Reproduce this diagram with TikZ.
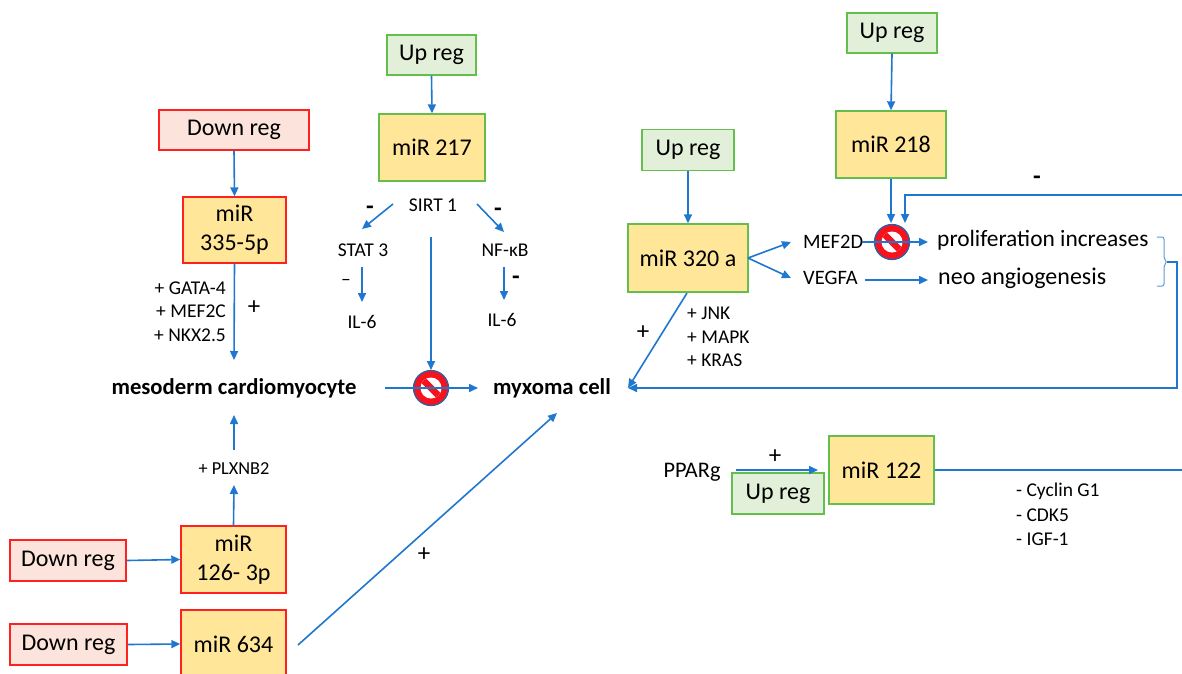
\documentclass[tikz,border=0pt]{standalone}
\usepackage{fontspec}
\setmainfont{Carlito}
\usetikzlibrary{arrows.meta}
\definecolor{pinkfill}{HTML}{FCE4DC}
\definecolor{redline}{HTML}{FF2020}
\definecolor{greenfill}{HTML}{E2F0D9}
\definecolor{greenline}{HTML}{63BE4B}
\definecolor{yellowfill}{HTML}{FFE699}
\definecolor{arrowblue}{HTML}{1F77CF}
\definecolor{braceblue}{HTML}{5B9BD5}
\definecolor{signred}{HTML}{F5141E}
\definecolor{signblue}{HTML}{2E5FA8}
\begin{document}
\begin{tikzpicture}[x=1pt,y=-1pt,
  box/.style={draw, line width=1.4pt, inner sep=0pt, align=center, font=\fontsize{24}{29}\selectfont},
  downbox/.style={box, fill=pinkfill, draw=redline},
  upbox/.style={box, fill=greenfill, draw=greenline},
  mirR/.style={box, fill=yellowfill, draw=redline},
  mirG/.style={box, fill=yellowfill, draw=greenline},
  arr/.style={draw=arrowblue, line width=1.6pt, -{Triangle[length=9pt,width=8pt]}},
  lnk/.style={draw=arrowblue, line width=1.6pt},
  lbl/.style={inner sep=0pt, font=\fontsize{19.5}{22}\selectfont},
  midlbl/.style={inner sep=0pt, font=\fontsize{20.5}{22}\selectfont},
  biglbl/.style={inner sep=0pt, font=\fontsize{24}{27}\selectfont},
  boldlbl/.style={inner sep=0pt, font=\fontsize{22.7}{25}\selectfont\bfseries},
  signlbl/.style={inner sep=0pt, font=\fontsize{25}{27}\selectfont},
  nosign/.pic={
    \filldraw[fill=signred, draw=signblue, line width=1.3pt] (0,0) circle (17.5);
    \fill[white] (0,0) circle (10.5);
    \begin{scope}
      \clip (0,0) circle (10.5);
      \draw[signred, line width=6.5pt] (-13,-13) -- (13,13);
    \end{scope}
  }
]
\useasboundingbox (0,0) rectangle (1182,673);
\fill[white] (0,0) rectangle (1182,673);

% boxes
\node[downbox, minimum width=150pt, minimum height=40pt] (dr1) at (234,130) {Down reg};
\node[mirR, minimum width=103pt, minimum height=66pt] (m335) at (234.5,230) {miR\\335-5p};
\node[upbox, minimum width=89pt, minimum height=40pt] (ur217) at (431.5,55) {Up reg};
\node[mirG, minimum width=106pt, minimum height=67pt] (m217) at (432,147.5) {miR 217};
\node[upbox, minimum width=92pt, minimum height=41pt] (ur320) at (688,150) {Up reg};
\node[mirG, minimum width=120pt, minimum height=68pt] (m320) at (688,258) {miR 320 a};
\node[upbox, minimum width=90pt, minimum height=40pt] (ur218) at (892,33) {Up reg};
\node[mirG, minimum width=110pt, minimum height=67pt] (m218) at (891,144.5) {miR 218};
\node[downbox, minimum width=116pt, minimum height=41pt] (dr2) at (68,560.5) {Down reg};
\node[mirR, minimum width=105pt, minimum height=67pt] (m126) at (233.5,559.5) {miR\\126- 3p};
\node[downbox, minimum width=117pt, minimum height=41pt] (dr3) at (68.5,644.5) {Down reg};
\node[mirR, minimum width=105pt, minimum height=68pt] (m634) at (233.5,644) {miR 634};
\node[upbox, minimum width=92pt, minimum height=41pt] (ur122) at (778,493.5) {Up reg};
\node[mirG, minimum width=105pt, minimum height=68pt] (m122) at (881.5,470) {miR 122};

% text labels
\node[lbl] (sirt) at (433,205) {SIRT 1};
\node[lbl] (stat) at (363,250) {STAT 3};
\node[lbl] (nfkb) at (505,250) {NF-κB};
\node[lbl] (il6a) at (362,322) {IL-6};
\node[lbl] (il6b) at (502,320) {IL-6};
\node[boldlbl] (meso) at (234,388) {mesoderm cardiomyocyte};
\node[boldlbl] (myx) at (552,388) {myxoma cell};
\node[midlbl, anchor=west] (mef) at (803,242) {MEF2D};
\node[midlbl, anchor=west] (vegfa) at (803,278) {VEGFA};
\node[biglbl, font=\fontsize{23.4}{27}\selectfont, anchor=west] (prolif) at (937,240) {proliferation increases};
\node[biglbl, anchor=west] (neo) at (938,278) {neo angiogenesis};
\node[inner sep=0pt, font=\fontsize{22.3}{24}\selectfont] (pparg) at (692,472) {PPARg};
\node[lbl, anchor=east] (gata) at (226,288) {+ GATA-4};
\node[lbl, anchor=east] (mef2c) at (226,311) {+ MEF2C};
\node[lbl, anchor=east] (nkx) at (226,335) {+ NKX2.5};
\node[lbl, anchor=west] (jnk) at (687,313) {+ JNK};
\node[lbl, anchor=west] (mapk) at (687,337) {+ MAPK};
\node[lbl, anchor=west] (kras) at (687,360) {+ KRAS};
\node[lbl, anchor=west] (cyc) at (1016,491) {- Cyclin G1};
\node[lbl, anchor=west] (cdk) at (1016,515) {- CDK5};
\node[lbl, anchor=west] (igf) at (1016,539) {- IGF-1};
\node[inner sep=0pt, font=\fontsize{18.3}{20}\selectfont] (plx) at (234,469) {+ PLXNB2};

% signs
\node[signlbl] (pA) at (254,308) {+};
\node[signlbl] (mA) at (370,210) {\textbf{-}};
\node[signlbl] (mB) at (498,212) {\textbf{-}};
\node[lbl] (mC) at (346,282) {–};
\node[signlbl] (mD) at (516,280) {\textbf{-}};
\node[signlbl] (pB) at (643,333) {+};
\node[signlbl] (mE) at (1037,180) {\textbf{-}};
\node[signlbl] (pC) at (424,555) {+};
\node[signlbl] (pD) at (775,457) {+};

% coordinates
\coordinate (s1) at (431,388);
\coordinate (s2) at (892,242);
\coordinate (c335) at (234,360);
\coordinate (a1s) at (393,204); \coordinate (a1e) at (362,229);
\coordinate (a2s) at (477,204); \coordinate (a2e) at (504,232);
\coordinate (a3s) at (362,267); \coordinate (a3e) at (362,302);
\coordinate (a4s) at (504,267); \coordinate (a4e) at (504,300);
\coordinate (sirtdown) at (431,237); \coordinate (s1top) at (431,370);
\coordinate (mesoout) at (385,388); \coordinate (myxin1) at (478,388);
\coordinate (m320out) at (748,258);
\coordinate (mefin) at (791,242); \coordinate (vegin) at (791,278);
\coordinate (m320down) at (687,293); \coordinate (myxin) at (628,388);
\coordinate (s2top) at (891,223);
\coordinate (fbstart) at (1182,195); \coordinate (fbend) at (905,223);
\coordinate (mefout) at (862,242); \coordinate (prolin) at (928,242);
\coordinate (vegout) at (865,280); \coordinate (neoin) at (928,280);
\coordinate (brtip) at (1167,262); \coordinate (brright) at (1177,262);
\coordinate (plxin) at (234,485); \coordinate (plxout) at (234,450);
\coordinate (mesoin) at (234,415);
\coordinate (m634out) at (298,645); \coordinate (myxin2) at (557,413);
\coordinate (ppout) at (736,470); \coordinate (m122in) at (818,470);
\coordinate (m122end) at (1182,470);

% stop signs
\pic at (s1) {nosign};
\pic at (s2) {nosign};

% connectors
\draw[arr] (dr1.south) -- (m335.north);
\draw[arr] (m335.south) -- (c335);
\draw[arr] (ur217.south) -- (m217.north);
\draw[arr] (a1s) -- (a1e);
\draw[arr] (a2s) -- (a2e);
\draw[arr] (a3s) -- (a3e);
\draw[arr] (a4s) -- (a4e);
\draw[arr] (sirtdown) -- (s1top);
\draw[arr] (mesoout) -- (myxin1);
\draw[arr] (ur320.south) -- (m320.north);
\draw[arr] (m320out) -- (mefin);
\draw[arr] (m320out) -- (vegin);
\draw[arr] (m320down) -- (myxin);
\draw[arr] (ur218.south) -- (m218.north);
\draw[arr] (m218.south) -- (s2top);
\draw[arr] (fbstart) -| (fbend);
\draw[arr] (mefout) -- (prolin);
\draw[arr] (vegout) -- (neoin);
\draw[braceblue, line width=1pt, rounded corners=2pt]
  (1157,237) -- (1164,237) -- (1164,259) -- (brtip) -- (1164,265) -- (1164,286) -- (1157,286);
\draw[arr] (brtip) -- (brright) |- (myxin);
\draw[arr] (dr2.east) -- (m126.west);
\draw[arr] (dr3.east) -- (m634.west);
\draw[arr] (m126.north) -- (plxin);
\draw[arr] (plxout) -- (mesoin);
\draw[arr] (m634out) -- (myxin2);
\draw[arr] (ppout) -- (m122in);
\draw[lnk] (m122.east) -- (m122end);
\end{tikzpicture}
\end{document}
